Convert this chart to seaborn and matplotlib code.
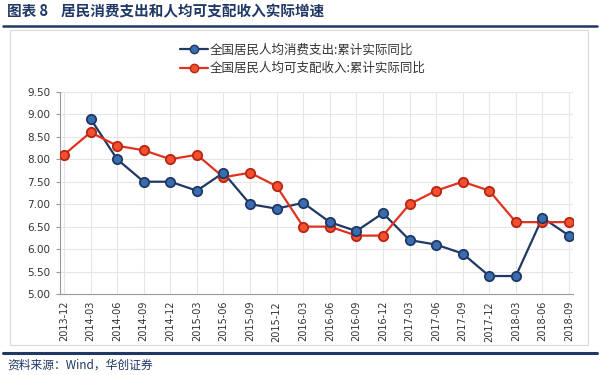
import numpy as np
import pandas as pd
import matplotlib
matplotlib.use("Agg")
import matplotlib.pyplot as plt
import seaborn as sns
from matplotlib.lines import Line2D
from matplotlib.patches import Rectangle

# quarterly dates (x categories)
dates = ["2013-12", "2014-03", "2014-06", "2014-09", "2014-12",
         "2015-03", "2015-06", "2015-09", "2015-12",
         "2016-03", "2016-06", "2016-09", "2016-12",
         "2017-03", "2017-06", "2017-09", "2017-12",
         "2018-03", "2018-06", "2018-09"]

# per-capita consumption spending, cumulative real yoy (%)
consumption = [np.nan, 8.9, 8.0, 7.5, 7.5,
               7.3, 7.7, 7.0, 6.9,
               7.03, 6.6, 6.4, 6.8,
               6.2, 6.1, 5.9, 5.4,
               5.4, 6.7, 6.3]

# per-capita disposable income, cumulative real yoy (%)
income = [8.1, 8.6, 8.3, 8.2, 8.0,
          8.1, 7.6, 7.7, 7.4,
          6.5, 6.5, 6.3, 6.3,
          7.0, 7.3, 7.5, 7.3,
          6.6, 6.6, 6.6]

yticks = [5.0, 5.5, 6.0, 6.5, 7.0, 7.5, 8.0, 8.5, 9.0, 9.5]

name_c = "全国居民人均消费支出:累计实际同比"
name_i = "全国居民人均可支配收入:累计实际同比"

navy = "#1F3864"
blue_fill = "#3A6DB0"
red_line = "#E0321E"
red_fill = "#F2502E"

df = pd.DataFrame({
    "idx": list(range(len(dates))) * 2,
    "value": consumption + income,
    "series": [name_c] * len(dates) + [name_i] * len(dates),
})

sns.set_style("white")
plt.rcParams["font.family"] = ["Noto Sans CJK SC", "DejaVu Sans"]

fig = plt.figure(figsize=(6, 3.75), dpi=100)
ax = fig.add_axes([0.1, 0.216, 0.855, 0.539])

palette = {name_c: navy, name_i: red_line}
sns.lineplot(data=df, x="idx", y="value", hue="series", palette=palette,
             linewidth=1.6, ax=ax, legend=False)

# markers drawn on top, per series
for name, fc, ec in [(name_i, red_fill, "#B82512"),
                     (name_c, blue_fill, navy)]:
    sub = df[df["series"] == name].dropna()
    sns.scatterplot(data=sub, x="idx", y="value", ax=ax, s=45,
                    color=fc, edgecolor=ec, linewidth=1.3, zorder=5, legend=False)

ax.set_xlim(-0.15, 19.15)
ax.set_ylim(5.0, 9.5)
ax.set_yticks(yticks)
ax.set_yticklabels([f"{v:.2f}" for v in yticks], fontsize=7.5, color="#333333",
                   family="DejaVu Sans")
ax.set_xticks(range(len(dates)))
ax.set_xticklabels(dates, rotation=90, fontsize=7, color="#333333", family="DejaVu Sans")
ax.set_xlabel("")
ax.set_ylabel("")

ax.grid(True, color="#E6E6E6", linewidth=0.8)
ax.set_axisbelow(True)
for side in ["top", "right"]:
    ax.spines[side].set_visible(False)
ax.spines["left"].set_color("#999999")
ax.spines["bottom"].set_color("#999999")
ax.tick_params(axis="x", length=3, color="#999999", pad=2)
ax.tick_params(axis="y", length=3, color="#999999", pad=4, left=True)

handles = [
    Line2D([0], [0], color=navy, lw=1.6, marker="o", markersize=6,
           markerfacecolor=blue_fill, markeredgecolor=navy),
    Line2D([0], [0], color=red_line, lw=1.6, marker="o", markersize=6,
           markerfacecolor=red_fill, markeredgecolor="#B82512"),
]
fig.legend(handles, [name_c, name_i], loc="center", bbox_to_anchor=(0.505, 0.842),
           ncol=1, frameon=False, fontsize=9, handlelength=2.2, handletextpad=0.2,
           labelspacing=0.45, labelcolor="#333333")

# outer chart frame
fig.patches.append(Rectangle((10 / 600, 1 - 345 / 375), 578 / 600, 315 / 375,
                             transform=fig.transFigure, fill=False,
                             edgecolor="#D9D9D9", linewidth=0.8))

# title and rules
fig.text(0.012, 1 - 11 / 375, "图表 8    居民消费支出和人均可支配收入实际增速",
         fontsize=10.5, fontweight="bold", color=navy, va="center", ha="left")
fig.add_artist(Line2D([0.005, 0.995], [1 - 26 / 375] * 2, color=navy, lw=1.8,
                      transform=fig.transFigure))
fig.add_artist(Line2D([0.005, 0.995], [1 - 353 / 375] * 2, color=navy, lw=2.2,
                      transform=fig.transFigure))
fig.text(0.012, 1 - 365 / 375, "资料来源：Wind，华创证券", fontsize=8.5,
         style="italic", color=navy, va="center", ha="left")

fig.savefig("out.png", dpi=100)
